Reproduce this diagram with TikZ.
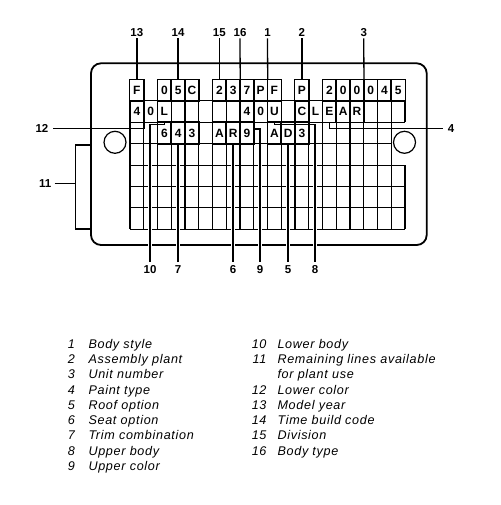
\documentclass[tikz,border=0pt]{standalone}
\usepackage{fontspec}
\setmainfont{Liberation Sans}
\newfontfamily\legfont[LetterSpace=5.5]{Liberation Sans}
\begin{document}
\begin{tikzpicture}[x=1pt,y=-1pt,
  cell/.style={minimum width=13.75pt,minimum height=21.4pt,inner sep=0pt,font=\bfseries\fontsize{12}{12}\selectfont},
  gridline/.style={line width=1.1pt},
  boxline/.style={line width=1.3pt},
  leader/.style={line width=1.3pt},
  halo/.style={white,line width=4.5pt},
  lab/.style={font=\bfseries\fontsize{11.5}{11.5}\selectfont,inner sep=2pt},
  leg/.style={font=\legfont\itshape\fontsize{12.6}{14}\selectfont,inner sep=0pt},
  plate/.style={line width=1.8pt,rounded corners=10pt}]
\useasboundingbox (0,0) rectangle (500,505);
\def\gx{130}\def\cw{13.75}\def\gy{79.5}\def\rh{21.4}
% plate and holes
\draw[plate] (91,63.3) rectangle (426.7,245);
\draw[line width=1.2pt] (115,142.3) circle (11);
\draw[line width=1.2pt] (404.5,142.3) circle (11);
% grid: row 2
\foreach \i in {0,...,20} \draw[gridline] ({\gx+\i*\cw},{\gy+\rh}) -- ({\gx+\i*\cw},{\gy+2*\rh});
\foreach \k in {1,2} \draw[gridline] (\gx,{\gy+\k*\rh}) -- ({\gx+20*\cw},{\gy+\k*\rh});
% rows 3-4
\foreach \i in {0,...,19} \draw[gridline] ({\gx+\i*\cw},{\gy+2*\rh}) -- ({\gx+\i*\cw},{\gy+4*\rh});
\draw[gridline] (\gx,{\gy+3*\rh}) -- ({\gx+19*\cw},{\gy+3*\rh});
% rows 5-7
\foreach \i in {0,...,20} \draw[gridline] ({\gx+\i*\cw},{\gy+4*\rh}) -- ({\gx+\i*\cw},{\gy+7*\rh});
\foreach \k in {4,...,7} \draw[gridline] (\gx,{\gy+\k*\rh}) -- ({\gx+20*\cw},{\gy+\k*\rh});
% halos for lower leaders
\foreach \x in {150,178.125,233.125,260,288.125,315} \draw[halo] (\x,145.5) -- (\x,250);
% cells with characters
\foreach \c/\t in {0/F,2/0,3/5,4/C,6/2,7/3,8/7,9/P,10/F,12/P,14/2,15/0,16/0,17/0,18/4,19/5}
  {\node[cell] (r1c\c) at ({\gx+(\c+0.5)*\cw},{\gy+0.5*\rh}) {\t};
   \draw[boxline] (r1c\c.north west) rectangle (r1c\c.south east);}
\foreach \c/\t in {0/4,1/0,2/L,8/4,9/0,10/U,12/C,13/L,14/E,15/A,16/R}
  {\node[cell] (r2c\c) at ({\gx+(\c+0.5)*\cw},{\gy+1.5*\rh}) {\t};
   \draw[boxline] (r2c\c.north west) rectangle (r2c\c.south east);}
\foreach \c/\t in {2/6,3/4,4/3,6/A,7/R,8/9,10/A,11/D,12/3}
  {\node[cell] (r3c\c) at ({\gx+(\c+0.5)*\cw},{\gy+2.5*\rh}) {\t};
   \draw[boxline] (r3c\c.north west) rectangle (r3c\c.south east);}
% top labels
\node[lab] (l13) at (136.875,32.2) {13};
\node[lab] (l14) at (178.125,32.2) {14};
\node[lab] (l15) at (219.375,32.2) {15};
\node[lab] (l16) at (240,32.2) {16};
\node[lab] (l1) at (267.5,32.2) {1};
\node[lab] (l2) at (301.875,32.2) {2};
\node[lab] (l3) at (363.75,32.2) {3};
\draw[leader] (l13.south) -- (r1c0.north);
\draw[leader] (l14.south) -- (r1c3.north);
\draw[leader] (l15.south) -- (r1c6.north);
\draw[leader] (l16.south) -- (r1c7.north east);
\draw[leader] (l1.south) -- (r1c9.north east);
\draw[leader] (l2.south) -- (r1c12.north);
\draw[leader] (l3.south) -- (r1c16.north east);
% bottom labels
\node[lab,inner sep=3.5pt] (l10) at (150,269.7) {10};
\node[lab,inner sep=3.5pt] (l7) at (178.125,269.7) {7};
\node[lab,inner sep=3.5pt] (l6) at (233.125,269.7) {6};
\node[lab,inner sep=3.5pt] (l9) at (260,269.7) {9};
\node[lab,inner sep=3.5pt] (l5) at (288.125,269.7) {5};
\node[lab,inner sep=3.5pt] (l8) at (315,269.7) {8};
\coordinate (k10) at (150,124.8);
\coordinate (k9) at (260,129);
\coordinate (k8) at (315,124.8);
\draw[leader] (l10.north) -- (k10) -| (r2c2.south);
\draw[leader] (l7.north) -- (r3c3.south);
\draw[leader] (l6.north) -- (r3c7.south);
\draw[leader] (l9.north) -- (k9) -| (r2c8.south east);
\draw[leader] (l5.north) -- (r3c11.south);
\draw[leader] (l8.north) -- (k8) -| (r2c10.south);
% side labels
\node[lab,inner sep=4.5pt] (l12) at (42,128.3) {12};
\draw[leader] (l12.east) -| (r2c0.south east);
\node[lab,inner sep=4.5pt] (l4) at (451,128.3) {4};
\draw[leader] (r2c14.south) |- (l4.west);
\node[lab,inner sep=3pt] (l11) at (45.3,183.3) {11};
\coordinate (b11t) at (91,145);
\coordinate (b11b) at (91,229);
\coordinate (b11m) at (75.7,183.3);
\draw[leader] (b11t) -- (75.7,145) -- (75.7,229) -- (b11b);
\draw[leader] (l11.east) -- (b11m);
% legend
\foreach \n/\t [count=\r from 0] in {1/Body style,2/Assembly plant,3/Unit number,4/Paint type,5/Roof option,6/Seat option,7/Trim combination,8/Upper body,9/Upper color}
  {\node[leg,anchor=base east] (n\n) at (75,{348.3+\r*15.25}) {\n};
   \node[leg,anchor=base west] (t\n) at (88.3,{348.3+\r*15.25}) {\t};}
\foreach \n/\r/\t in {10/0/Lower body,11/1/Remaining lines available,12/3/Lower color,13/4/Model year,14/5/Time build code,15/6/Division,16/7/Body type}
  {\node[leg,anchor=base east] (n\n) at (266.7,{348.3+\r*15.25}) {\n};
   \node[leg,anchor=base west] (t\n) at (277.3,{348.3+\r*15.25}) {\t};}
\node[leg,anchor=base west] (t11b) at (277.3,{348.3+2*15.25}) {for plant use};
\end{tikzpicture}
\end{document}
